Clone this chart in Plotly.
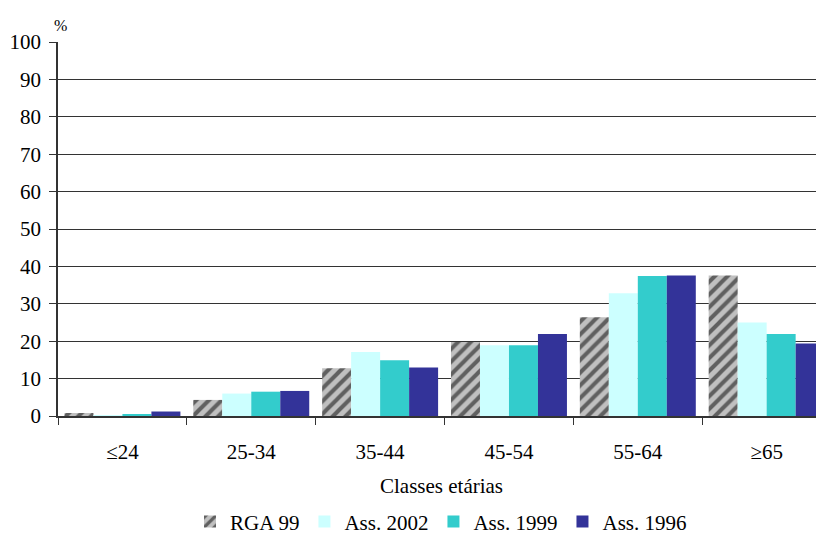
import plotly.graph_objects as go

categories = ["≤24", "25-34", "35-44", "45-54", "55-64", "≥65"]
rga99 = [0.8, 4.3, 12.8, 19.8, 26.4, 37.6]
ass2002 = [0.2, 6.0, 17.1, 18.9, 32.8, 25.0]
ass1999 = [0.5, 6.5, 14.9, 18.9, 37.4, 21.9]
ass1996 = [1.2, 6.7, 13.0, 21.9, 37.6, 19.4]
y_ticks = [0, 10, 20, 30, 40, 50, 60, 70, 80, 90, 100]

font_family = "Liberation Serif, Times New Roman, serif"

fig = go.Figure()
fig.add_trace(go.Bar(
    name="RGA 99", x=categories, y=rga99,
    marker=dict(color="#c0c0c0", line=dict(width=0),
                pattern=dict(shape="/", fgcolor="black", bgcolor="#c0c0c0",
                             size=9, solidity=0.45)),
))
fig.add_trace(go.Bar(name="Ass. 2002", x=categories, y=ass2002,
                     marker=dict(color="#CCFFFF", line=dict(width=0))))
fig.add_trace(go.Bar(name="Ass. 1999", x=categories, y=ass1999,
                     marker=dict(color="#33CCCC", line=dict(width=0))))
fig.add_trace(go.Bar(name="Ass. 1996", x=categories, y=ass1996,
                     marker=dict(color="#333399", line=dict(width=0))))

fig.update_layout(
    width=816, height=526,
    margin=dict(l=50, r=0, t=34, b=118, autoexpand=False),
    paper_bgcolor="white", plot_bgcolor="white",
    barmode="group", bargap=0.1, bargroupgap=0,
    font=dict(family=font_family, size=21, color="black"),
    showlegend=True,
    legend=dict(orientation="h", x=0.5, xanchor="center", y=-0.283, yanchor="middle",
                font=dict(size=21), itemwidth=30, tracegroupgap=0,
                traceorder="normal"),
    annotations=[
        dict(text="Classes etárias", x=0.5, y=-0.187, xref="paper", yref="paper",
             xanchor="center", yanchor="middle", showarrow=False, font=dict(size=21)),
        dict(text="%", x=(60 - 58) / 766, y=(416 - 25) / 374, xref="paper", yref="paper",
             xanchor="center", yanchor="middle", showarrow=False, font=dict(size=16)),
    ],
)

fig.update_xaxes(
    type="category", range=[-0.5, 5.445], automargin=False,
    showline=True, linecolor="#333333", linewidth=1.5,
    ticks="outside", ticklen=7, tickcolor="#333333", tickson="boundaries",
    showgrid=False, tickfont=dict(size=21), ticklabelstandoff=16,
)
fig.update_yaxes(
    range=[0, 100], tickvals=y_ticks, automargin=False,
    showline=True, linecolor="#333333", linewidth=1.5,
    ticks="outside", ticklen=7, tickcolor="#333333",
    showgrid=True, gridcolor="#333333", gridwidth=1,
    zeroline=False, tickfont=dict(size=21), ticklabelstandoff=4,
)

fig.write_html("out.html")
